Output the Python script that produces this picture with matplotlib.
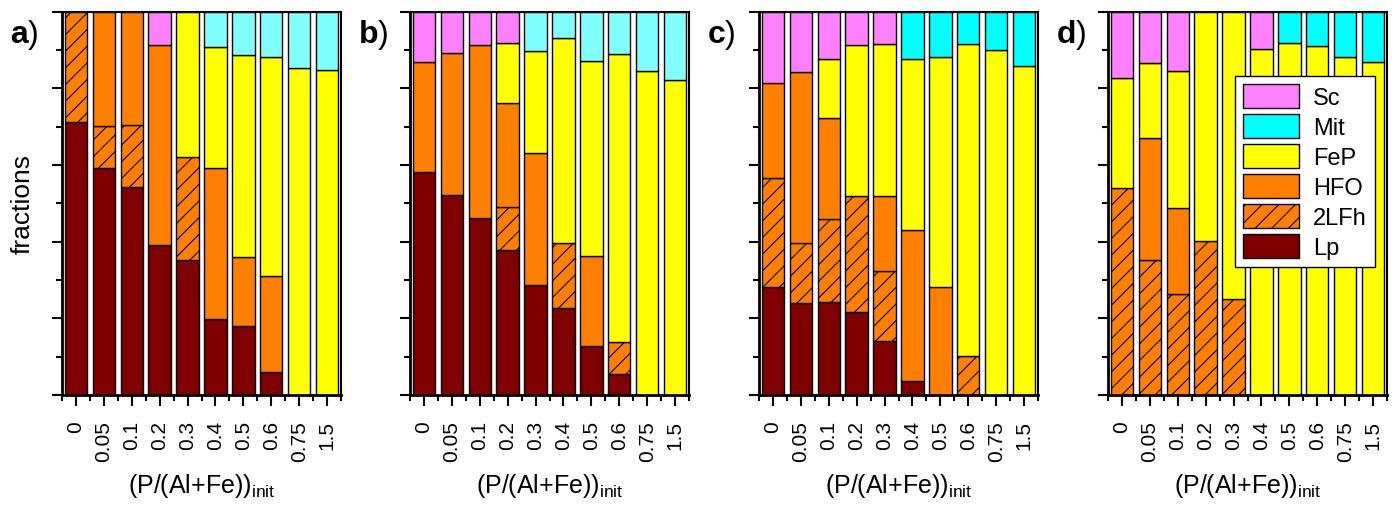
import numpy as np
import matplotlib
matplotlib.use('Agg')
import matplotlib.pyplot as plt
from matplotlib.patches import Patch

plt.rcParams['font.family'] = ['Liberation Sans', 'DejaVu Sans']
plt.rcParams['mathtext.fontset'] = 'custom'
plt.rcParams['mathtext.rm'] = 'Liberation Sans'
plt.rcParams['mathtext.it'] = 'Liberation Sans'
plt.rcParams['mathtext.bf'] = 'Liberation Sans:bold'
plt.rcParams['hatch.linewidth'] = 0.8

# ---------------- data ----------------
categories = ['0', '0.05', '0.1', '0.2', '0.3', '0.4', '0.5', '0.6', '0.75', '1.5']
components = ['Lp', '2LFh', 'HFO', 'FeP', 'Mit', 'Sc']
panel_labels = ['a', 'b', 'c', 'd']

# panel a
a_Lp   = [0.713, 0.591, 0.543, 0.392, 0.352, 0.198, 0.181, 0.059, 0.0, 0.0]
a_2LFh = [0.287, 0.110, 0.161, 0.0, 0.270, 0.0, 0.0, 0.0, 0.0, 0.0]
a_HFO  = [0.0, 0.299, 0.296, 0.522, 0.0, 0.393, 0.180, 0.251, 0.0, 0.0]
a_FeP  = [0.0, 0.0, 0.0, 0.0, 0.378, 0.316, 0.526, 0.571, 0.854, 0.848]
a_Mit  = [0.0, 0.0, 0.0, 0.0, 0.0, 0.093, 0.113, 0.119, 0.146, 0.152]
a_Sc   = [0.0, 0.0, 0.0, 0.086, 0.0, 0.0, 0.0, 0.0, 0.0, 0.0]

# panel b
b_Lp   = [0.581, 0.522, 0.461, 0.378, 0.288, 0.227, 0.127, 0.055, 0.0, 0.0]
b_2LFh = [0.0, 0.0, 0.0, 0.113, 0.0, 0.169, 0.0, 0.084, 0.0, 0.0]
b_HFO  = [0.289, 0.370, 0.452, 0.270, 0.343, 0.0, 0.235, 0.0, 0.0, 0.0]
b_FeP  = [0.0, 0.0, 0.0, 0.157, 0.267, 0.535, 0.510, 0.751, 0.844, 0.822]
b_Mit  = [0.0, 0.0, 0.0, 0.0, 0.102, 0.069, 0.128, 0.110, 0.156, 0.178]
b_Sc   = [0.130, 0.108, 0.087, 0.082, 0.0, 0.0, 0.0, 0.0, 0.0, 0.0]

# panel c
c_Lp   = [0.281, 0.240, 0.242, 0.216, 0.142, 0.037, 0.0, 0.0, 0.0, 0.0]
c_2LFh = [0.285, 0.156, 0.217, 0.302, 0.182, 0.0, 0.0, 0.103, 0.0, 0.0]
c_HFO  = [0.248, 0.446, 0.264, 0.0, 0.196, 0.394, 0.283, 0.0, 0.0, 0.0]
c_FeP  = [0.0, 0.0, 0.154, 0.395, 0.396, 0.446, 0.598, 0.814, 0.901, 0.859]
c_Mit  = [0.0, 0.0, 0.0, 0.0, 0.0, 0.123, 0.119, 0.083, 0.099, 0.141]
c_Sc   = [0.186, 0.158, 0.123, 0.087, 0.084, 0.0, 0.0, 0.0, 0.0, 0.0]

# panel d
d_Lp   = [0.0, 0.0, 0.0, 0.0, 0.0, 0.0, 0.0, 0.0, 0.0, 0.0]
d_2LFh = [0.539, 0.352, 0.263, 0.401, 0.250, 0.0, 0.0, 0.0, 0.0, 0.0]
d_HFO  = [0.0, 0.318, 0.224, 0.0, 0.0, 0.0, 0.0, 0.0, 0.0, 0.0]
d_FeP  = [0.288, 0.195, 0.359, 0.599, 0.750, 0.903, 0.918, 0.911, 0.883, 0.870]
d_Mit  = [0.0, 0.0, 0.0, 0.0, 0.0, 0.0, 0.082, 0.089, 0.117, 0.130]
d_Sc   = [0.173, 0.135, 0.154, 0.0, 0.0, 0.097, 0.0, 0.0, 0.0, 0.0]

panels = {
    'a': [a_Lp, a_2LFh, a_HFO, a_FeP, a_Mit, a_Sc],
    'b': [b_Lp, b_2LFh, b_HFO, b_FeP, b_Mit, b_Sc],
    'c': [c_Lp, c_2LFh, c_HFO, c_FeP, c_Mit, c_Sc],
    'd': [d_Lp, d_2LFh, d_HFO, d_FeP, d_Mit, d_Sc],
}

# ---------------- styles ----------------
col_Lp = '#800000'
col_or = '#FF8000'
col_FeP = '#FFFF00'
col_Sc = '#FF80FF'
mit_colors = {'a': '#80FFFF', 'b': '#80FFFF', 'c': '#00FFFF', 'd': '#00FFFF'}

W, H = 1395, 506
fig = plt.figure(figsize=(W / 100, H / 100), dpi=100)

ax_left_px = [62, 410, 759, 1108]
ax_w_px = 279
ax_top_px, ax_bot_px = 12.7, 396

x = np.arange(len(categories))

for i, p in enumerate(panel_labels):
    ax = fig.add_axes([ax_left_px[i] / W, 1 - ax_bot_px / H,
                       ax_w_px / W, (ax_bot_px - ax_top_px) / H])
    colors = [col_Lp, col_or, col_or, col_FeP, mit_colors[p], col_Sc]
    hatches = [None, '//', None, None, None, None]
    bottom = np.zeros(len(categories))
    for vals, c, h in zip(panels[p], colors, hatches):
        v = np.asarray(vals, dtype=float)
        m = v > 0
        ax.bar(x[m], v[m], bottom=bottom[m], width=0.8, color=c,
               edgecolor='black', linewidth=1.0, hatch=h, zorder=2)
        bottom += v
    ax.set_xlim(-0.5, 9.5)
    ax.set_ylim(0, 1)
    ax.set_yticks(np.arange(0, 1.01, 0.2))
    ax.set_yticks(np.arange(0.1, 1.0, 0.2), minor=True)
    ax.set_yticklabels([])
    ax.set_xticks(x)
    ax.set_xticklabels(categories, rotation=90, fontsize=15)
    ax.set_xticks(np.arange(-0.5, 10, 1.0), minor=True)
    ax.tick_params(axis='y', which='major', direction='out', length=7, width=1.5)
    ax.tick_params(axis='y', which='minor', direction='out', length=4, width=1.5)
    ax.tick_params(axis='x', which='major', direction='out', length=8, width=1.5, pad=10)
    ax.tick_params(axis='x', which='minor', direction='out', length=4, width=1.5)
    for s in ax.spines.values():
        s.set_linewidth(1.5)
    ax.spines['left'].set_linewidth(2.0)
    ax.spines['bottom'].set_linewidth(2.0)

    # panel label
    cx = (ax_left_px[i] + ax_w_px / 2) / W
    fig.text((ax_left_px[i] - 52) / W, 1 - 43 / H, r'$\mathbf{%s}$)' % p,
             fontsize=23, ha='left', va='baseline')
    # x label
    fig.text(cx, 1 - 493 / H, r'(P/(Al+Fe))$_{\mathrm{init}}$',
             fontsize=18, ha='center', va='baseline')

    if p == 'd':
        handles = [
            Patch(facecolor=col_Sc, edgecolor='black', linewidth=1.0, label='Sc'),
            Patch(facecolor=mit_colors['d'], edgecolor='black', linewidth=1.0, label='Mit'),
            Patch(facecolor=col_FeP, edgecolor='black', linewidth=1.0, label='FeP'),
            Patch(facecolor=col_or, edgecolor='black', linewidth=1.0, label='HFO'),
            Patch(facecolor=col_or, edgecolor='black', linewidth=1.0, hatch='//', label='2LFh'),
            Patch(facecolor=col_Lp, edgecolor='black', linewidth=1.0, label='Lp'),
        ]
        leg = ax.legend(handles=handles, loc='upper right',
                        bbox_to_anchor=(0.957, 0.833), fontsize=17,
                        handlelength=2.35, handleheight=1.22, labelspacing=0.2,
                        handletextpad=0.6, borderpad=0.35, borderaxespad=0,
                        fancybox=False, framealpha=1, edgecolor='black')
        leg.get_frame().set_linewidth(1.0)
        leg.set_zorder(5)

# y label
fig.text(23 / W, 1 - 204 / H, 'fractions', fontsize=19, rotation=90,
         ha='center', va='center')

fig.savefig('out.png', dpi=100)
